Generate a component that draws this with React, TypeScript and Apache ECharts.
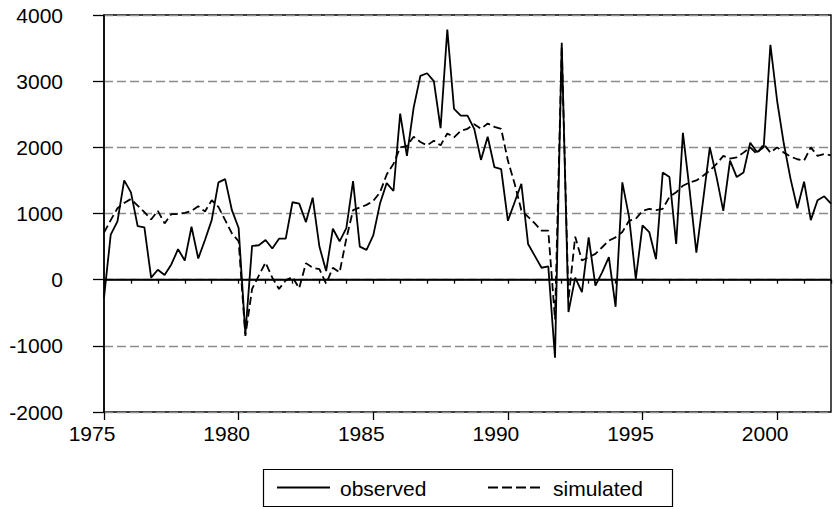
import React, { useEffect, useRef } from "react";
import * as echarts from "echarts";

const startYear = 1975;
const endYear = 2002;
const seriesNames = ["observed", "simulated"];
const yTicks = [-2000, -1000, 0, 1000, 2000, 3000, 4000];
const labelYears = [1975, 1980, 1985, 1990, 1995, 2000];

const observed = [
  -270, 680, 880, 1500, 1320, 810, 790, 30, 150, 70,
  230, 460, 290, 800, 320, 600, 900, 1470, 1520, 1050,
  780, -820, 510, 520, 600, 470, 620, 620, 1170, 1150,
  870, 1240, 500, 130, 770, 580, 780, 1490, 500, 450,
  670, 1150, 1460, 1340, 2510, 1870, 2600, 3080, 3120, 3000,
  2290, 3780, 2580, 2480, 2480, 2280, 1810, 2160, 1700, 1670,
  890, 1170, 1450, 540, 360, 180, 200, -1180, 3580, -490,
  30, -190, 640, -90, 110, 340, -410, 1470, 950, 10,
  820, 720, 310, 1620, 1550, 540, 2220, 1350, 410, 1200,
  2000, 1550, 1040, 1800, 1550, 1620, 2070, 1930, 2000, 3550,
  2700, 2050, 1520, 1080, 1480, 900, 1200, 1260, 1150,
];

const simulated = [
  710, 900, 1080, 1160, 1220, 1120, 1020, 910, 1040, 850,
  990, 990, 1010, 1040, 1110, 1030, 1200, 1100, 900, 700,
  580, -850, -140, 60, 260, 30, -140, -10, 40, -130,
  250, 180, 160, -60, 180, 110, 620, 1050, 1090, 1130,
  1190, 1320, 1590, 1750, 2000, 2020, 2160, 2080, 2030, 2100,
  2030, 2210, 2150, 2250, 2280, 2350, 2280, 2360, 2310, 2280,
  1800, 1450, 1050, 950, 850, 740, 740, -600, 3520, -300,
  650, 290, 340, 390, 490, 590, 640, 720, 890, 920,
  1040, 1070, 1050, 1070, 1250, 1320, 1420, 1470, 1500, 1570,
  1650, 1750, 1870, 1830, 1850, 1920, 2000, 1900, 2050, 1920,
  2000, 1920, 1860, 1820, 1800, 2000, 1870, 1900, 1880,
];

const FONT = "'Liberation Sans', Arial, Helvetica, sans-serif";

const toPairs = (vals: number[]) => vals.map((v, i) => [startYear + i / 4, v]);

export default function App() {
  const ref = useRef<HTMLDivElement>(null);
  useEffect(() => {
    if (!ref.current) return;
    const chart = echarts.init(ref.current, undefined, { renderer: "svg" });
    chart.setOption({
      animation: false,
      backgroundColor: "#fff",
      grid: {
        left: 104,
        right: 3,
        top: 15,
        height: 397,
        show: true,
        borderColor: "#000",
        borderWidth: 1.4,
        backgroundColor: "transparent",
      },
      xAxis: [
        {
          type: "value",
          min: startYear,
          max: endYear,
          interval: 1,
          axisLine: { show: true, lineStyle: { color: "#000", width: 1.5 } },
          axisTick: { show: true, length: 4, lineStyle: { color: "#000", width: 1.3 } },
          axisLabel: { show: false },
          splitLine: { show: false },
        },
        {
          type: "value",
          min: startYear,
          max: endYear,
          position: "bottom",
          axisLine: { show: false },
          axisTick: { show: true, length: 8, customValues: labelYears, lineStyle: { color: "#000", width: 1.3 } },
          axisLabel: {
            show: true,
            customValues: labelYears,
            fontSize: 21,
            fontFamily: FONT,
            color: "#000",
            margin: 11,
            padding: [0, 24, 0, 0],
            formatter: (v: number) => String(v),
          },
          splitLine: { show: false },
        },
      ],
      yAxis: {
        type: "value",
        min: yTicks[0],
        max: yTicks[yTicks.length - 1],
        interval: 1000,
        axisLine: { show: true, lineStyle: { color: "#000", width: 1.5 } },
        axisTick: { show: true, length: 11, lineStyle: { color: "#000", width: 1.3 } },
        axisLabel: {
          fontSize: 21,
          fontFamily: FONT,
          color: "#000",
          margin: 41,
          formatter: (v: number) => String(v),
        },
        splitLine: { show: true, lineStyle: { color: "#8c8c8c", type: [9, 4], width: 1.3 } },
      },
      series: [
        {
          name: seriesNames[0],
          type: "line",
          xAxisIndex: 0,
          symbol: "none",
          data: toPairs(observed),
          lineStyle: { color: "#000", width: 1.8 },
          markLine: {
            silent: true,
            symbol: "none",
            label: { show: false },
            lineStyle: { color: "#000", type: "solid", width: 1.3 },
            data: [{ yAxis: 0 }],
          },
          z: 3,
        },
        {
          name: seriesNames[1],
          type: "line",
          xAxisIndex: 0,
          symbol: "none",
          data: toPairs(simulated),
          lineStyle: { color: "#000", width: 1.8, type: [8, 4] },
          z: 2,
        },
      ],
      graphic: [
        {
          type: "rect",
          shape: { x: 263.5, y: 469.5, width: 409, height: 37 },
          style: { fill: "#fff", stroke: "#000", lineWidth: 1.2 },
        },
        {
          type: "line",
          shape: { x1: 277, y1: 487.5, x2: 330, y2: 487.5 },
          style: { stroke: "#000", lineWidth: 1.8 },
        },
        {
          type: "text",
          x: 340,
          y: 488,
          style: { text: seriesNames[0], fontSize: 21, fontFamily: FONT, fill: "#000", verticalAlign: "middle", align: "left" },
        },
        {
          type: "line",
          shape: { x1: 488, y1: 487.5, x2: 544, y2: 487.5 },
          style: { stroke: "#000", lineWidth: 1.8, lineDash: [10, 4] },
        },
        {
          type: "text",
          x: 553,
          y: 488,
          style: { text: seriesNames[1], fontSize: 21, fontFamily: FONT, fill: "#000", verticalAlign: "middle", align: "left" },
        },
      ],
    });
    return () => chart.dispose();
  }, []);
  return (
    <div
      ref={ref}
      style={{ position: "fixed", left: 0, top: 0, width: 834, height: 509 }}
    />
  );
}
